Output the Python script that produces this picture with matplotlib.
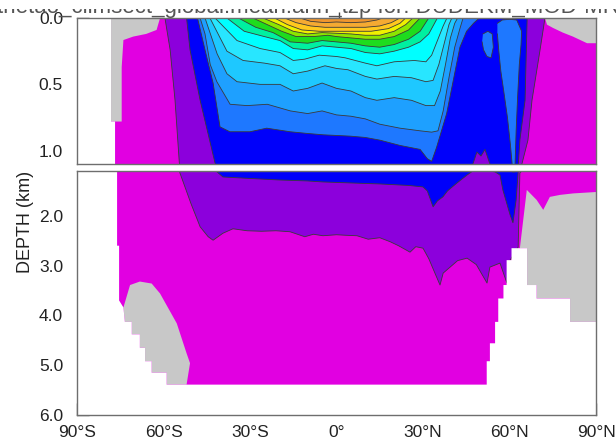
import matplotlib.pyplot as plt

plt.rcParams['font.family'] = ['Liberation Sans', 'DejaVu Sans']

# shading for each band, coldest to warmest
band_colors = ['#E100E1', '#8C00DC', '#0000FA', '#1E78FF', '#1EA0FF', '#1EC8FF',
               '#28E6FF', '#00FFFF', '#00F0A0', '#1EDC1E', '#8CE600', '#F0F000',
               '#FFC81E', '#F5AA32', '#F0962D']

# isotherm k separates band k-1 (below) from band k (above); (latitude, depth km)
iso1_lat = [-59.5, -57.7, -56.0, -54.5, -54.3, -50.5, -47.3, -44.5, -42.8, -39.4, -35.9, -31, -26, -21,
            -16.1, -11, -8, -4.7, 0, 3, 7.1, 11, 15, 18.6, 21.5, 25.5, 27.5, 30.0, 32, 35.9, 37, 39.4,
            42, 45.3, 48.5, 52.2, 53.2, 56.7, 59.1, 60.2, 63.0, 63.6, 64.3, 66.4, 67.8, 70.6, 72.3]
iso1_dep = [0, 0.24, 0.62, 1.095, 1.14, 1.75, 2.22, 2.42, 2.49, 2.35, 2.26, 2.30, 2.31, 2.30,
            2.32, 2.42, 2.37, 2.40, 2.38, 2.39, 2.40, 2.47, 2.44, 2.52, 2.60, 2.73, 2.62, 2.65, 2.86, 3.39, 3.15, 3.03,
            2.90, 2.85, 2.98, 3.35, 3.03, 2.95, 3.35, 2.89, 2.63, 1.14, 1.1, 0.92, 0.62, 0.24, 0]

iso2_lat = [-52.0, -50.8, -47.3, -42.1, -41.4, -39.4, -30, -20, -10, -4.7, 5, 15, 25, 30, 31.5, 33.5,
            35, 36.9, 38.5, 41.8, 45.3, 47.3, 48.7, 50.1, 51.5, 53.2, 55.0, 56.7, 57.7, 60.2, 61.2,
            62.3, 63.0, 63.6, 65.4, 66.1, 66.1]
iso2_dep = [0, 0.24, 0.62, 1.095, 1.12, 1.22, 1.25, 1.28, 1.30, 1.32, 1.34, 1.36, 1.39, 1.42, 1.5, 1.82,
            1.70, 1.62, 1.50, 1.34, 1.18, 1.10, 1.01, 1.04, 0.99, 1.10, 1.12, 1.18, 1.48, 1.98, 2.14,
            1.68, 1.12, 0.92, 0.62, 0.02, 0]

iso3_lat = [-48.2, -45.6, -42.8, -40.4, -37, -30, -24.2, -16.1, -10, -4.6, 4.7, 10, 15, 22, 29, 31.5,
            33, 34.7, 38.2, 40.5, 42.8, 45.1, 47.5, 49.5]
iso3_dep = [0, 0.24, 0.49, 0.82, 0.857, 0.857, 0.83, 0.857, 0.87, 0.88, 0.89, 0.90, 0.92, 0.96, 0.99, 1.06,
            1.08, 0.975, 0.72, 0.47, 0.22, 0.10, 0.04, 0]

iso4_lat = [-47.3, -45.6, -43.8, -41.5, -39.6, -36.9, -31, -24, -16, -10, -5, 0, 5, 10, 15, 22, 29, 33,
            35.2, 37, 39, 41, 42.8, 43.9]
iso4_dep = [0, 0.12, 0.35, 0.48, 0.55, 0.65, 0.66, 0.65, 0.70, 0.72, 0.70, 0.73, 0.74, 0.76, 0.80, 0.83,
            0.85, 0.86, 0.85, 0.70, 0.45, 0.22, 0.08, 0]

iso5_lat = [-45.6, -41.4, -38, -34.5, -26.5, -19.6, -15, -10, -5, 0, 5, 10, 14, 20, 26, 31, 34, 36,
            37.8, 39.5, 41, 42]
iso5_dep = [0, 0.27, 0.42, 0.48, 0.50, 0.50, 0.55, 0.53, 0.49, 0.53, 0.55, 0.60, 0.62, 0.60, 0.62, 0.66,
            0.66, 0.55, 0.35, 0.15, 0.04, 0]

iso6_lat = [-43.9, -38, -32.4, -25, -19.6, -15, -10, -4, 0, 4, 10, 14, 20, 26, 31, 33.5, 35.5, 37.5,
            39, 40]
iso6_dep = [0, 0.25, 0.32, 0.34, 0.36, 0.42, 0.40, 0.36, 0.38, 0.39, 0.44, 0.46, 0.44, 0.45, 0.48, 0.47,
            0.35, 0.18, 0.05, 0]

iso7_lat = [-42.1, -34.5, -26.5, -19.6, -15, -11, -6, 0, 3, 10, 14, 20, 27, 31, 33, 35, 37, 38.3]
iso7_dep = [0, 0.17, 0.23, 0.26, 0.32, 0.31, 0.28, 0.29, 0.30, 0.34, 0.36, 0.33, 0.32, 0.33, 0.28, 0.17,
            0.06, 0]

iso8_lat = [-38, -32, -25, -19.6, -15, -10, -5, 0, 5, 10, 15, 20, 25, 29, 32, 35]
iso8_dep = [0, 0.10, 0.14, 0.17, 0.23, 0.24, 0.21, 0.22, 0.23, 0.26, 0.27, 0.25, 0.22, 0.18, 0.12, 0]

iso9_lat = [-34, -28, -22, -16, -10, -5, 0, 5, 10, 15, 20, 25, 29, 32]
iso9_dep = [0, 0.07, 0.11, 0.18, 0.19, 0.17, 0.18, 0.19, 0.21, 0.22, 0.20, 0.16, 0.10, 0]

iso10_lat = [-29, -24, -19, -14, -8, -3, 0, 5, 10, 15, 20, 25, 29]
iso10_dep = [0, 0.05, 0.10, 0.14, 0.14, 0.13, 0.14, 0.15, 0.16, 0.16, 0.14, 0.09, 0]

iso11_lat = [-25.5, -20, -15, -10, -5, 0, 5, 10, 15, 20, 24, 26.5]
iso11_dep = [0, 0.05, 0.10, 0.12, 0.11, 0.115, 0.12, 0.13, 0.13, 0.10, 0.05, 0]

iso12_lat = [-21.5, -17, -12, -6, 0, 6, 12, 18, 22, 24]
iso12_dep = [0, 0.05, 0.09, 0.10, 0.10, 0.10, 0.10, 0.08, 0.04, 0]

iso13_lat = [-18, -14, -9, -4, 0, 5, 10, 15, 19, 22]
iso13_dep = [0, 0.035, 0.06, 0.07, 0.07, 0.07, 0.07, 0.06, 0.035, 0]

iso14_lat = [-12.7, -9, -4, 0, 5, 10, 14, 16]
iso14_dep = [0, 0.025, 0.035, 0.03, 0.035, 0.03, 0.015, 0]

# closed pockets of band 3 water in the northern upper ocean
pocket_a_lat = [50.8, 52.5, 54.0, 54.4, 53.6, 52.2, 51.0, 50.5]
pocket_a_dep = [0.12, 0.10, 0.12, 0.22, 0.30, 0.29, 0.24, 0.18]
pocket_b_lat = [55.8, 57.5, 60.0, 62.5, 64.2, 64.0, 63.4, 62.8, 62.3, 61.9, 61.0, 60.3, 59.3, 58.0,
                57.0, 56.3, 55.8]
pocket_b_dep = [0.04, 0.015, 0.01, 0.015, 0.10, 0.20, 0.35, 0.60, 0.85, 1.12, 1.12, 0.95, 0.75, 0.55,
                0.40, 0.25, 0.12]

# land / ice
land_nw_lat = [-78.2, -61.2, -61.2, -62.4, -66, -70.5, -73.9, -74.5, -74.5, -78.2]
land_nw_dep = [-0.2, -0.2, 0.0, 0.09, 0.12, 0.14, 0.166, 0.37, 0.78, 0.78]
land_ne_lat = [72.3, 73, 75.1, 78.5, 82, 86.9, 90.5, 90.5, 72.3]
land_ne_dep = [0, 0.05, 0.075, 0.11, 0.14, 0.19, 0.19, -0.2, -0.2]
land_sw_lat = [-73.9, -71.6, -68.2, -64.1, -61.2, -55.4, -52.0, -50.8, -52.0, -58.9, -58.9, -64.1,
               -64.1, -66.4, -66.4, -68.2, -68.2, -71.0, -71.0, -73.4]
land_sw_dep = [3.84, 3.39, 3.32, 3.36, 3.56, 4.16, 4.76, 4.96, 5.39, 5.39, 5.15, 5.15,
               4.92, 4.92, 4.65, 4.65, 4.38, 4.38, 4.13, 4.13]
land_se_lat = [63.6, 66.0, 69.4, 71.7, 74.0, 77.5, 82.1, 90.5, 90.5, 81, 81, 69.4, 69.4, 66.1, 66.1]
land_se_dep = [2.65, 1.48, 1.68, 1.88, 1.62, 1.58, 1.55, 1.52, 4.13, 4.13, 3.66, 3.66, 3.39, 3.39, 2.65]

# no-data area outside the section
nodata_lat = [-90.5, -78.2, -78.2, -76.8, -76.8, -76.1, -76.1, -75.4, -75.4, -73.9, -73.4, -71.0,
              -71.0, -68.2, -68.2, -66.4, -66.4, -64.1, -64.1, -58.9, -58.9, 52.1, 52.1, 53.2, 53.2,
              55.0, 55.0, 56.1, 56.1, 57.9, 57.9, 59.0, 59.0, 60.7, 60.7, 66.1, 66.1, 69.4, 69.4,
              81, 81, 90.5, 90.5, -90.5]
nodata_dep = [-0.2, -0.2, 0.78, 0.78, 1.12, 1.12, 2.6, 2.6, 3.7, 3.84, 4.13, 4.13,
              4.38, 4.38, 4.65, 4.65, 4.92, 4.92, 5.15, 5.15, 5.39, 5.39, 4.92, 4.92, 4.56,
              4.56, 4.13, 4.13, 3.66, 3.66, 3.39, 3.39, 2.89, 2.89, 2.65, 2.65, 3.39, 3.39, 3.66,
              3.66, 4.13, 4.13, 6.3, 6.3]

isotherms = [(iso1_lat, iso1_dep), (iso2_lat, iso2_dep), (iso3_lat, iso3_dep), (iso4_lat, iso4_dep),
             (iso5_lat, iso5_dep), (iso6_lat, iso6_dep), (iso7_lat, iso7_dep), (iso8_lat, iso8_dep),
             (iso9_lat, iso9_dep), (iso10_lat, iso10_dep), (iso11_lat, iso11_dep),
             (iso12_lat, iso12_dep), (iso13_lat, iso13_dep), (iso14_lat, iso14_dep)]
pockets = [(pocket_a_lat, pocket_a_dep), (pocket_b_lat, pocket_b_dep)]
lands = [(land_nw_lat, land_nw_dep), (land_ne_lat, land_ne_dep),
         (land_sw_lat, land_sw_dep), (land_se_lat, land_se_dep)]

xticks = [-90, -60, -30, 0, 30, 60, 90]
xlabels = ['90°S', '60°S', '30°S', '0°', '30°N', '60°N', '90°N']

line_col = '#3A3A3A'
land_col = '#C8C8C8'
frame_col = '#6E6E6E'
text_col = '#222222'


def draw_section(ax):
    ax.set_facecolor(band_colors[0])
    for k, (la, de) in enumerate(isotherms, start=1):
        ax.fill(list(la) + [la[-1], la[0]], list(de) + [-0.5, -0.5],
                color=band_colors[k], lw=0, zorder=1)
        if k == 3:
            for pla, pde in pockets:
                ax.fill(pla, pde, color=band_colors[3], lw=0, zorder=1)
    for la, de in isotherms + pockets:
        ax.plot(la, de, color=line_col, lw=0.6, zorder=2)
    for la, de in lands:
        ax.fill(la, de, color=land_col, lw=0, zorder=3)
    ax.fill(nodata_lat, nodata_dep, color='white', lw=0, zorder=3)
    ax.set_xlim(-90, 90)
    for s in ax.spines.values():
        s.set_color(frame_col)
        s.set_linewidth(1.0)
        s.set_zorder(5)
    ax.tick_params(axis='both', direction='in', length=8.5, width=1.0, color='#555555',
                   labelsize=12.5, labelcolor=text_col)
    ax.tick_params(axis='y', pad=10)


fig = plt.figure(figsize=(6.16, 4.46), dpi=100)
ax_top = fig.add_axes([77 / 616, 1 - 164 / 446, 519 / 616, 146 / 446])
ax_bot = fig.add_axes([77 / 616, 1 - 415 / 446, 519 / 616, 244 / 446])

draw_section(ax_top)
ax_top.set_ylim(1.1, 0)
ax_top.set_yticks([0, 0.5, 1.0], ['0.0', '0.5', '1.0'])
ax_top.set_xticks([0.8])
ax_top.tick_params(axis='x', bottom=False, labelbottom=False, top=True, direction='out',
                   length=4, color='#444444')

draw_section(ax_bot)
ax_bot.set_ylim(6.0, 1.1)
ax_bot.set_yticks([2, 3, 4, 5, 6], ['2.0', '3.0', '4.0', '5.0', '6.0'])
ax_bot.set_xticks(xticks, xlabels)
ax_bot.tick_params(axis='x', pad=7)

fig.text(25 / 616, 1 - 222 / 446, 'DEPTH (km)', rotation=90, ha='center', va='center',
         fontsize=13, color=text_col)

# title sits mostly above the top edge; a blank strip hides all but its lower part
fig.text(0.5, 1 - 13 / 446, 'thetao_climsect_global.mean.ann_tzp for: DUDEKM_MOD-MR',
         ha='center', va='baseline', fontsize=16, color='#555555', zorder=3)
cover = fig.add_axes([0, 1 - 9 / 446, 1, 9 / 446], zorder=10)
cover.set_facecolor('white')
cover.set_xticks([])
cover.set_yticks([])
for s in cover.spines.values():
    s.set_visible(False)

fig.savefig('out.png', dpi=100)
